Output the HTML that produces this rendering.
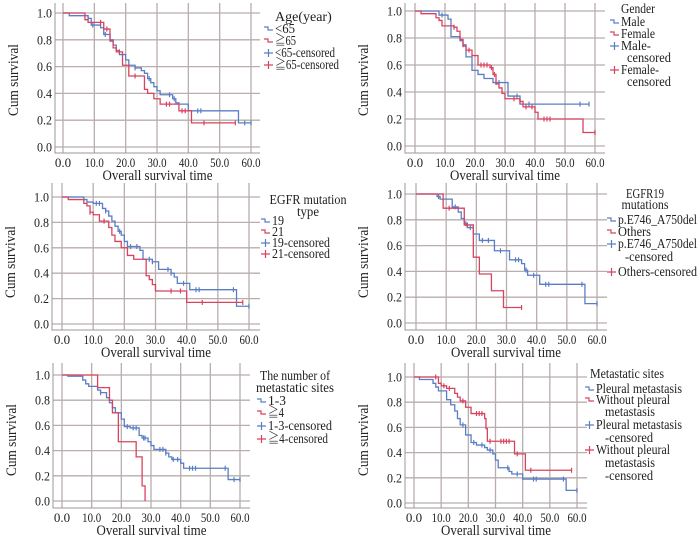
<!DOCTYPE html>
<html><head><meta charset="utf-8"><style>
body{margin:0;background:#fff}
svg{display:block}
text{font-family:"Liberation Serif","Times New Roman","Noto Serif CJK SC",serif}
</style></head><body>
<svg id="fig" width="700" height="542" viewBox="0 0 700 542"></svg>
<script>
// ---- data (times in months, survival) ----
const ageLt65T=[2,8,9,12,13,15,16,17,18,20,21,23,25,26,27,28,29,30,31,35,36,37,40,56];
const ageLt65S=[.98,.96,.91,.89,.84,.80,.76,.72,.69,.65,.61,.59,.57,.55,.51,.48,.45,.42,.39,.36,.33,.32,.27,.18];
const ageLt65C=[8,9.5,13.5,23,27.5,34,35.5,43,44,58,60];
const ageGe65T=[7,8,13,15,16,17,19,21,26,27,29,31,37,41];
const ageGe65S=[.95,.93,.88,.79,.74,.71,.61,.53,.43,.40,.36,.32,.27,.18];
const ageGe65C=[12,14,18,23,33,34,38,39,45,55];
const maleT=[8,11,12,15,16,17,19,21,23,26,31,35];
const maleS=[.97,.94,.81,.78,.75,.66,.56,.53,.50,.47,.37,.31];
const maleC=[9,16,27,28,34,38,55,58];
const femaleT=[2,7,8,9,13,14,15,16,17,19,21,25,26,27,28,29,30,35,36,40,41,56];
const femaleS=[.98,.95,.93,.89,.88,.85,.79,.74,.71,.67,.60,.58,.53,.46,.43,.39,.35,.33,.29,.25,.20,.10];
const femaleC=[13,18,22,23,24,25.5,26.5,33,35,37,39,43,44,45,60];
const m19T=[7,8,10,13,14,15,16,17,18,19,20,21,25,26,29,31,35,36,37,41,56];
const m19S=[.98,.96,.95,.91,.89,.85,.81,.77,.73,.70,.65,.61,.58,.51,.49,.43,.40,.37,.32,.27,.14];
const m19C=[11,12,14,18.5,22,24,28,29,34,35,39,43,44,55,60];
const m21T=[2,7,8,9,10,12,15,16,17,19,21,23,27,28,29,30,40];
const m21S=[.98,.95,.93,.88,.86,.81,.76,.70,.65,.60,.54,.51,.38,.35,.31,.26,.17];
const m21C=[9,13.5,35,38,45,58];
const delT=[7,8,12,14,15,16,17,19,21,26,31,35,36,37,41,56];
const delS=[.98,.96,.90,.86,.81,.77,.74,.69,.64,.56,.49,.46,.41,.37,.30,.15];
const delC=[7.5,13,16.5,18,22,24,28,33,34,36.5,39,43,44,55,60];
const othT=[9,16,19,21,25,29];
const othS=[.89,.76,.51,.38,.25,.12];
const othC=[11,17,35];
const s13T=[2,7,8,9,12,13,15,16,17,18,20,21,23,26,27,29,30,31,35,36,37,40,41,56];
const s13S=[.99,.96,.93,.91,.88,.86,.82,.78,.74,.70,.65,.59,.58,.52,.50,.47,.44,.41,.38,.35,.33,.30,.26,.17];
const s13C=[13,22,24,25,27.5,28,33,34,35,37.5,39,43,44,45,55,58,60];
const s4T=[12,16,17,19,25,27,28];
const s4S=[.90,.80,.70,.47,.35,.12,0];
const s4C=[];
const plT=[2,7,8,9,12,13.5,15,16,17,19,21,23,26,27,29,30,31,35,36,40,56];
const plS=[.98,.95,.92,.89,.82,.78,.73,.67,.62,.54,.48,.46,.44,.42,.39,.34,.28,.25,.23,.19,.10];
const plC=[18,22,25,28,34.5,38,44,45,55,60];
const woT=[9,10,12,15,16,17,19,21,26,26.5,27,37,41];
const woS=[.95,.93,.91,.87,.84,.81,.76,.71,.67,.59,.49,.39,.26];
const woC=[8,11,13,18,23,24,25,28,32,33,34,35,38,43,58];
const xTicks=["0.0","10.0","20.0","30.0","40.0","50.0","60.0"];
const yTicks=["0.0","0.2","0.4","0.6","0.8","1.0"];

const BLUE="#5a7ec6",RED="#d8435f",GRID="#b9adad";
const NS="http://www.w3.org/2000/svg";
const svg=document.getElementById('fig');
function mk(tag,attrs,parent){const e=document.createElementNS(NS,tag);for(const k in attrs)e.setAttribute(k,attrs[k]);(parent||svg).appendChild(e);return e;}
const allText=[];
function tx(attrs,parent,str,maxW){const t=mk('text',attrs,parent);t.textContent=str;allText.push([t,maxW]);return t;}

const panels=[
 {name:'age',L:55,R:260,T:3,B:153,x0:63,x60:251,y0:147,y1:13,yt:80,
  series:[[ageLt65T,ageLt65S,ageLt65C,BLUE,60],[ageGe65T,ageGe65S,ageGe65C,RED,55]],
  legTitle:[["Age(year)",275,21,'start',57]],
  leg:[["line",BLUE,"<65",275,33,20],["line",RED,"\u226765",275,45,21],["cens",BLUE,"<65-censored",275,57,60],["cens",RED,"\u226765-censored",275,69,64]]},
 {name:'gender',L:405,R:605,T:3,B:153,x0:415,x60:595,y0:146,y1:11,yt:80,
  series:[[maleT,maleS,maleC,BLUE,58],[femaleT,femaleS,femaleC,RED,60]],
  legTitle:[["Gender",621,13,'start',34]],
  leg:[["line",BLUE,"Male",621,26,24],["line",RED,"Female",621,38,34],["cens",BLUE,"Male-",621,50,30],["none",BLUE,"censored",627,62,44],["cens",RED,"Female-",621,74,38],["none",RED,"censored",627,86,44]]},
 {name:'egfr-type',L:52,R:260,T:183,B:330,x0:62,x60:249,y0:324,y1:197,yt:262,
  series:[[m19T,m19S,m19C,BLUE,60],[m21T,m21S,m21C,RED,58]],
  legTitle:[["EGFR mutation",308,204,'middle',77],["type",308,216,'middle',22]],
  leg:[["line",BLUE,"19",272,225,12],["line",RED,"21",272,236,12],["cens",BLUE,"19-censored",272,247,58],["cens",RED,"21-censored",272,258,58]]},
 {name:'egfr19',L:405,R:607,T:183,B:330,x0:416,x60:597,y0:323,y1:194,yt:262,
  series:[[delT,delS,delC,BLUE,60],[othT,othS,othC,RED,35]],
  legTitle:[["EGFR19",645,198,'middle',38],["mutations",645,209,'middle',47]],
  leg:[["line",BLUE,"p.E746_A750del",618,224,79],["line",RED,"Others",618,236,33],["cens",BLUE,"p.E746_A750del",618,248,79],["none",BLUE,"-censored",625,261,48],["cens",RED,"Others-censored",618,276,79]]},
 {name:'metastatic-number',L:53,R:250,T:363,B:508,x0:62,x60:240,y0:501,y1:375,yt:440,
  series:[[s13T,s13S,s13C,BLUE,60],[s4T,s4S,s4C,RED,28]],
  legTitle:[["The number of",295,380,'middle',70],["metastatic sites",295,392,'middle',78]],
  leg:[["line",BLUE,"1-3",268,405,18],["line",RED,"\u22674",268,417,16],["cens",BLUE,"1-3-censored",268,430,64],["cens",RED,"\u22674-censored",268,443,60]]},
 {name:'metastatic-sites',L:405,R:587,T:363,B:508,x0:414,x60:577,y0:503,y1:377,yt:440,
  series:[[plT,plS,plC,BLUE,60],[woT,woS,woC,RED,58]],
  legTitle:[["Metastatic sites",590,378,'start',74]],
  leg:[["line",BLUE,"Pleural metastasis",596,393,86],["line",RED,"Without pleural",596,404,74],["none",RED,"metastasis",605,416,50],["cens",BLUE,"Pleural metastasis",596,429,86],["none",BLUE,"-censored",605,442,48],["cens",RED,"Without pleural",596,454,74],["none",RED,"metastasis",605,467,50],["none",RED,"-censored",605,480,48]]}
];

panels.forEach(p=>{
  const g=mk('g',{});
  
  
  const X=t=>p.x0+(p.x60-p.x0)*t/60;
  const Y=s=>p.y0+(p.y1-p.y0)*s;
  xTicks.forEach((lab,i)=>{
    const x=X(i*10);
    const l=mk('line',{x1:x,x2:x,y1:p.T,y2:p.B,stroke:GRID,'stroke-width':1.3},g);
    
    
    const t=tx({x:x,y:p.B+14,'text-anchor':'middle','font-size':13,fill:'#222'},g,lab,19);
    
    
  });
  yTicks.forEach((lab,i)=>{
    const y=Y(i*0.2);
    const l=mk('line',{x1:p.L,x2:p.R,y1:y,y2:y,stroke:GRID,'stroke-width':1.3},g);
    
    
    const t=tx({x:p.L-3,y:y+4.5,'text-anchor':'end','font-size':13,fill:'#222'},g,lab,15);
    
    
  });
  const ax=mk('path',{d:`M${p.L},${p.T}V${p.B}H${p.R}`,fill:'none',stroke:'#999','stroke-width':1},g);
  
  
  const xt=tx({x:(p.L+p.R)/2,y:p.B+27,'text-anchor':'middle','font-size':14.5,fill:'#222'},g,'Overall survival time',110);
  
  
  const yt=tx({x:0,y:0,'text-anchor':'middle','font-size':14.5,fill:'#222',transform:`translate(${p.L-37},${p.yt}) rotate(-90)`},g,'Cum survival',72);
  
  
  p.series.forEach(([T,S,C,col,end],si)=>{
    let d=`M${X(0)},${Y(1)}`;
    T.forEach((t,i)=>{d+=`H${X(t)}V${Y(S[i])}`;});
    d+=`H${X(end)}`;
    const pa=mk('path',{d:d,fill:'none',stroke:col,'stroke-width':1.3},g);
    
    
    C.forEach(c=>{
      let s=1;T.forEach((t,i)=>{if(t<=c)s=S[i];});
      const m=mk('line',{x1:X(c),x2:X(c),y1:Y(s)-2.5,y2:Y(s)+2.5,stroke:col,'stroke-width':1.2},g);
      
      
    });
  });
  p.legTitle.forEach(([txt,x,y,a,w])=>{
    const t=tx({x:x,y:y,'text-anchor':a,'font-size':14,fill:'#222'},g,txt,w);
    
    
  });
  p.leg.forEach(([kind,col,txt,x,y,w])=>{
    if(kind==='line'){
      const ic=mk('path',{d:`M${x-11},${y-6}H${x-7}V${y-3}H${x-2}`,fill:'none',stroke:col,'stroke-width':1.2},g);
      
      
    }else if(kind==='cens'){
      const ic=mk('path',{d:`M${x-11},${y-4}H${x-2}M${x-6.5},${y-8}V${y}`,fill:'none',stroke:col,'stroke-width':1.2},g);
      
      
    }
    const t=tx({x:x,y:y,'font-size':14,fill:'#222'},g,txt,w);
    
    
  });
});
// fit text widths to the reference (font fallback may be wider)
allText.forEach(([t,w])=>{
  if(!w)return;
  const cur=t.getComputedTextLength();
  if(cur>w){t.setAttribute('textLength',w);t.setAttribute('lengthAdjust','spacingAndGlyphs');}
});
</script>
</body></html>
